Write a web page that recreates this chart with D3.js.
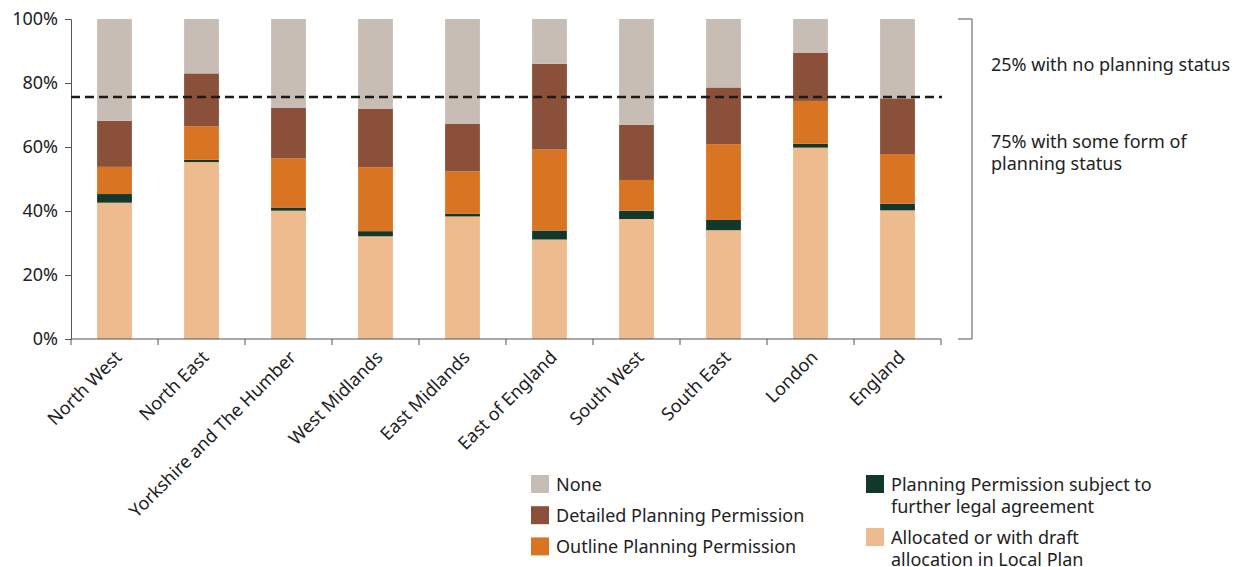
<!DOCTYPE html>
<html>
<head>
<meta charset="utf-8">
<script src="https://cdn.jsdelivr.net/npm/d3@7"></script>
<style>
  body { margin: 0; background: #fff; }
  svg text { font-family: "Noto Sans", "Open Sans", sans-serif; fill: #222; }
</style>
</head>
<body>
<svg id="chart"></svg>
<script>
// regions, bottom-to-top stack values in %
const regions = ["North West", "North East", "Yorkshire and The Humber", "West Midlands", "East Midlands",
  "East of England", "South West", "South East", "London", "England"];
const allocated = [42.6, 55.3, 40.1, 32.1, 38.3, 31.1, 37.5, 34.0, 59.8, 40.2];
const legalAgreement = [2.7, 0.7, 1.0, 1.6, 0.8, 2.8, 2.6, 3.2, 1.2, 2.1];
const outline = [8.5, 10.5, 15.4, 20.0, 13.3, 25.3, 9.6, 23.7, 13.4, 15.5];
const detailed = [14.4, 16.5, 15.8, 18.3, 14.9, 26.8, 17.2, 17.7, 15.1, 17.4];
const none = [31.8, 17.0, 27.7, 28.0, 32.7, 14.0, 33.1, 21.4, 10.5, 24.8];

const seriesKeys = ["allocated", "legal", "outline", "detailed", "none"];
const seriesColors = ["#eebb8e", "#12382c", "#d97522", "#8a503a", "#c8bdb4"];
const yTicks = [0, 20, 40, 60, 80, 100];
const thresholdLine = 75.6;
const notes = [["25% with no planning status"], ["75% with some form of", "planning status"]];

const legendItems = [
  {key: "none", lines: ["None"], col: 0, row: 0},
  {key: "detailed", lines: ["Detailed Planning Permission"], col: 0, row: 1},
  {key: "outline", lines: ["Outline Planning Permission"], col: 0, row: 2},
  {key: "legal", lines: ["Planning Permission subject to", "further legal agreement"], col: 1, row: 0},
  {key: "allocated", lines: ["Allocated or with draft", "allocation in Local Plan"], col: 1, row: 1.7}
];

const width = 1239, height = 567;
const margin = {top: 19, left: 71};
const plotW = 870, plotH = 320;
const fontSize = 18;
const lineGap = 21.5;

const svg = d3.select("#chart").attr("width", width).attr("height", height);

const rows = regions.map((r, i) => ({
  region: r,
  allocated: allocated[i], legal: legalAgreement[i], outline: outline[i],
  detailed: detailed[i], none: none[i]
}));
const stacked = d3.stack().keys(seriesKeys)(rows);

const x = d3.scaleBand().domain(regions).range([0, plotW]).paddingInner(0.6).paddingOuter(0.3);
const xEdges = d3.scaleBand().domain(regions).range([0, plotW]).padding(0);
const y = d3.scaleLinear().domain([0, 100]).range([plotH, 0]);
const color = d3.scaleOrdinal().domain(seriesKeys).range(seriesColors);

const g = svg.append("g").attr("transform", `translate(${margin.left},${margin.top})`);

g.selectAll("g.series")
  .data(stacked)
  .join("g")
  .attr("class", "series")
  .attr("fill", d => color(d.key))
  .selectAll("rect")
  .data(d => d)
  .join("rect")
  .attr("x", d => x(d.data.region))
  .attr("width", x.bandwidth())
  .attr("y", d => y(Math.min(d[1], 100)))
  .attr("height", d => y(d[0]) - y(Math.min(d[1], 100)));

// y axis
const yAxis = g.append("g")
  .call(d3.axisLeft(y).tickValues(yTicks).tickFormat(d => d + "%").tickSize(6).tickPadding(7));
yAxis.select(".domain").attr("stroke", "#555");
yAxis.selectAll(".tick line").attr("stroke", "#555");
yAxis.selectAll(".tick text").attr("font-size", fontSize).attr("fill", "#222")
  .style("font-family", '"Noto Sans", sans-serif');

// x axis: baseline, ticks at band edges, rotated labels
const xAxis = g.append("g").attr("transform", `translate(0,${plotH})`);
xAxis.append("line").attr("x1", 0).attr("x2", plotW).attr("stroke", "#555");
xAxis.selectAll("line.edge")
  .data(regions.map(r => xEdges(r)).concat([plotW]))
  .join("line")
  .attr("class", "edge")
  .attr("x1", d => d).attr("x2", d => d)
  .attr("y1", 0).attr("y2", 6)
  .attr("stroke", "#555");
xAxis.selectAll("text")
  .data(regions)
  .join("text")
  .attr("transform", d => `translate(${x(d) + x.bandwidth() / 2 + 4},${15}) rotate(-45)`)
  .attr("text-anchor", "end")
  .attr("dy", "0.35em")
  .attr("font-size", fontSize)
  .text(d => d);

// dashed threshold
g.append("line")
  .attr("x1", 0).attr("x2", plotW + 1)
  .attr("y1", y(thresholdLine)).attr("y2", y(thresholdLine))
  .attr("stroke", "#1a1a1a")
  .attr("stroke-width", 2.5)
  .attr("stroke-dasharray", "9,5");

// bracket on the right
const bx = plotW + 31;
g.append("path")
  .attr("d", `M${bx - 14},${y(100)}H${bx}V${y(0)}H${bx - 14}`)
  .attr("fill", "none")
  .attr("stroke", "#555");

// notes, one text per line
const noteY = [52, 129];
notes.forEach((lines, i) => {
  lines.forEach((l, j) => {
    g.append("text")
      .attr("x", bx + 19)
      .attr("y", noteY[i] + j * lineGap)
      .attr("font-size", fontSize)
      .text(l);
  });
});

// legend
const legend = svg.append("g").attr("transform", "translate(531,475)");
const colX = [0, 335];
const rowH = 31.2;
const items = legend.selectAll("g")
  .data(legendItems)
  .join("g")
  .attr("transform", d => `translate(${colX[d.col]},${d.row * rowH})`);
items.append("rect")
  .attr("width", 18).attr("height", 18)
  .attr("fill", d => color(d.key));
items.selectAll("text")
  .data(d => d.lines)
  .join("text")
  .attr("x", 25)
  .attr("y", (l, j) => 16 + j * lineGap)
  .attr("font-size", fontSize)
  .text(l => l);
</script>
</body>
</html>
